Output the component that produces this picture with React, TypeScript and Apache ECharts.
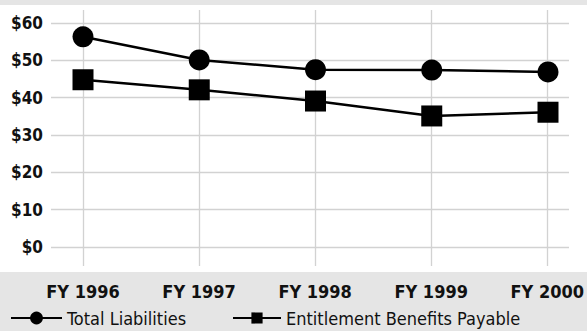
import React, { useEffect, useRef } from "react";
import * as echarts from "echarts";

const years = ["FY 1996", "FY 1997", "FY 1998", "FY 1999", "FY 2000"];
const totalLiabilities = [56.3, 50.1, 47.5, 47.4, 46.9];
const entitlementBenefits = [44.8, 42.1, 39.1, 35.1, 36.1];
const yTicks = [0, 10, 20, 30, 40, 50, 60];

const FONT = "'Liberation Sans Narrow', 'DejaVu Sans Condensed', 'Roboto', sans-serif";
const GRID_COLOR = "#d2d2d2";

export default function App() {
  const ref = useRef<HTMLDivElement>(null);

  useEffect(() => {
    if (!ref.current) return;
    const chart = echarts.init(ref.current, undefined, { renderer: "svg" });
    const yMin = yTicks[0];
    const yMax = yTicks[yTicks.length - 1];
    chart.setOption({
      animation: false,
      backgroundColor: "#e5e5e5",
      graphic: [
        {
          type: "rect",
          z: -10,
          silent: true,
          shape: { x: 0, y: 5, width: 587, height: 267 },
          style: { fill: "#ffffff" },
        },
      ],
      grid: [
        // data
        { left: 83, right: 39, top: 23, bottom: 84 },
        // horizontal rules and dollar labels
        { left: 51, right: 18, top: 23, bottom: 84 },
        // vertical rules and year labels
        { left: 83, right: 39, top: 10, bottom: 65 },
      ],
      xAxis: [
        {
          gridIndex: 0,
          type: "category",
          data: years,
          boundaryGap: false,
          show: false,
        },
        {
          gridIndex: 1,
          type: "category",
          data: years,
          show: false,
        },
        {
          gridIndex: 2,
          type: "category",
          data: years,
          boundaryGap: false,
          axisLine: { show: false },
          axisTick: { show: false },
          splitLine: { show: true, lineStyle: { color: GRID_COLOR, width: 1.3 } },
          axisLabel: {
            margin: 16,
            fontFamily: FONT,
            fontWeight: "bold",
            fontSize: 18,
            color: "#111",
          },
        },
      ],
      yAxis: [
        {
          gridIndex: 0,
          type: "value",
          min: yMin,
          max: yMax,
          interval: 10,
          show: false,
        },
        {
          gridIndex: 1,
          type: "value",
          min: yMin,
          max: yMax,
          interval: 10,
          axisLine: { show: false },
          axisTick: { show: false },
          splitLine: { show: true, lineStyle: { color: GRID_COLOR, width: 1.3 } },
          axisLabel: {
            margin: 8,
            fontFamily: FONT,
            fontWeight: "bold",
            fontSize: 17,
            color: "#111",
            formatter: (v: number) => "$" + v,
          },
        },
        {
          gridIndex: 2,
          type: "value",
          show: false,
        },
      ],
      legend: [
        {
          data: ["Total Liabilities"],
          left: 10,
          top: 309,
          padding: 0,
          itemWidth: 51,
          itemHeight: 16,
          textStyle: { fontFamily: FONT, fontSize: 18, color: "#111" },
        },
        {
          data: ["Entitlement Benefits Payable"],
          left: 232,
          top: 309,
          padding: 0,
          itemWidth: 48,
          itemHeight: 14,
          textStyle: { fontFamily: FONT, fontSize: 18, color: "#111" },
        },
      ],
      series: [
        {
          name: "Total Liabilities",
          type: "line",
          xAxisIndex: 0,
          yAxisIndex: 0,
          data: totalLiabilities,
          symbol: "circle",
          symbolSize: 21,
          itemStyle: { color: "#000" },
          lineStyle: { color: "#000", width: 2.5 },
        },
        {
          name: "Entitlement Benefits Payable",
          type: "line",
          xAxisIndex: 0,
          yAxisIndex: 0,
          data: entitlementBenefits,
          symbol: "rect",
          symbolSize: 21,
          itemStyle: { color: "#000" },
          lineStyle: { color: "#000", width: 2.5 },
        },
      ],
    });
    return () => chart.dispose();
  }, []);

  return (
    <div
      ref={ref}
      style={{ position: "fixed", left: 0, top: 0, width: 587, height: 331 }}
    />
  );
}
